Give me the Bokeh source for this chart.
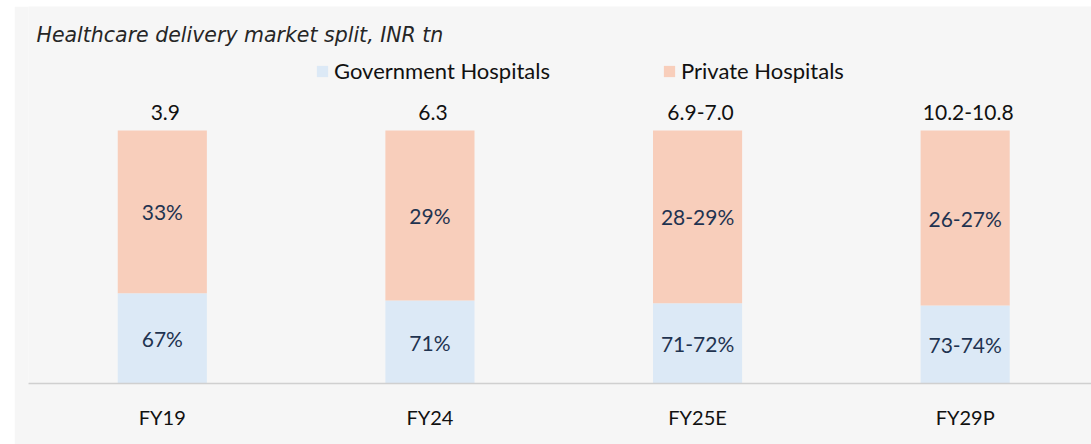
from bokeh.plotting import figure
from bokeh.models import Range1d, FixedTicker, Legend, LegendItem, ColumnDataSource, Label
from bokeh.core.properties import value
from bokeh.embed import file_html
from bokeh.resources import INLINE

# ---- data ----
categories = ["FY19", "FY24", "FY25E", "FY29P"]
total_labels = ["3.9", "6.3", "6.9-7.0", "10.2-10.8"]
gov_labels = ["67%", "71%", "71-72%", "73-74%"]
pvt_labels = ["33%", "29%", "28-29%", "26-27%"]
# segment heights as drawn in the source chart (share of a 100% bar)
gov_height = [35.7, 32.8, 31.7, 30.8]
pvt_height = [64.3, 67.2, 68.3, 69.2]

BLUE = "#dce9f6"
PEACH = "#f8cebb"
BG = "#f6f6f6"
FONT = "Lato"

xs = list(range(len(categories)))
src = ColumnDataSource(dict(
    x=xs,
    gov=gov_height,
    pvt=pvt_height,
    gov_mid=[g / 2 for g in gov_height],
    pvt_mid=[g + v / 2 for g, v in zip(gov_height, pvt_height)],
    top=[g + v for g, v in zip(gov_height, pvt_height)],
    gov_lab=gov_labels,
    pvt_lab=pvt_labels,
    tot_lab=total_labels,
))

p = figure(width=1077, height=438, output_backend="svg", toolbar_location=None,
           x_range=Range1d(-0.5, 3.472), y_range=Range1d(0, 149.0),
           min_border_left=14, min_border_right=0, min_border_top=0, min_border_bottom=61,
           background_fill_color=BG, border_fill_color=BG, outline_line_color=None,
           margin=(6, 0, 0, 14))

rs = p.vbar_stack(["gov", "pvt"], x="x", width=0.333, color=[BLUE, PEACH],
                  line_color=None, source=src)

p.text(x="x", y="gov_mid", text="gov_lab", source=src, text_align="center",
       text_baseline="middle", text_font=value(FONT), text_font_size="21px",
       text_color="#1f3350")
p.text(x="x", y="pvt_mid", text="pvt_lab", source=src, text_align="center",
       text_baseline="middle", text_font=value(FONT), text_font_size="21px",
       text_color="#1f3350")
p.text(x="x", y="top", text="tot_lab", source=src, text_align="center",
       text_baseline="middle", y_offset=-18, x_offset=3, text_font=value(FONT),
       text_font_size="21px", text_color="#111111")

legend = Legend(items=[LegendItem(label="Government Hospitals", renderers=[rs[0]]),
                       LegendItem(label="Private Hospitals", renderers=[rs[1]])],
                orientation="horizontal", location=(287, 299),
                glyph_width=14, glyph_height=14, label_standoff=5, spacing=112,
                padding=0, margin=0, background_fill_alpha=0, border_line_color=None,
                label_text_font=FONT, label_text_font_size="22px",
                label_text_color="#111111", label_height=14)
p.add_layout(legend)

p.add_layout(Label(x=8, y=349, x_units="screen", y_units="screen",
                   text="Healthcare delivery market split, INR tn",
                   text_font="DejaVu Sans", text_font_style="italic",
                   text_font_size="20.5px", text_color="#262626", text_baseline="middle"))

p.yaxis.visible = False
p.xgrid.visible = False
p.ygrid.visible = False
p.xaxis.ticker = FixedTicker(ticks=xs)
p.xaxis.major_label_overrides = {i: c for i, c in enumerate(categories)}
p.xaxis.axis_line_color = "#d0d0d0"
p.xaxis.axis_line_width = 1.5
p.xaxis.major_tick_line_color = None
p.xaxis.minor_tick_line_color = None
p.xaxis.major_label_standoff = 15
p.xaxis.major_label_text_font = FONT
p.xaxis.major_label_text_font_size = "20px"
p.xaxis.major_label_text_color = "#111111"

open("out.html", "w").write(file_html(p, INLINE))
